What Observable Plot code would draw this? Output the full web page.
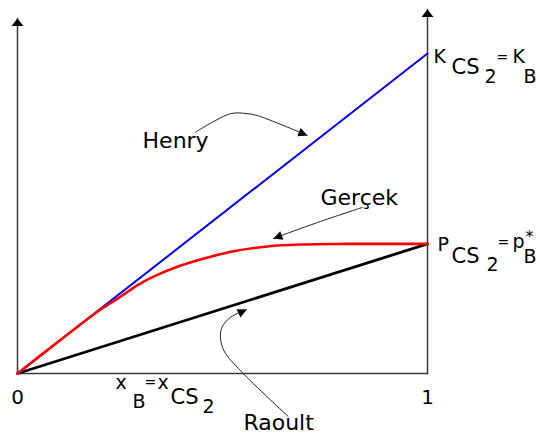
<!DOCTYPE html>
<html><head><meta charset="utf-8">
<script src="https://cdn.jsdelivr.net/npm/d3@7"></script>
<script src="https://cdn.jsdelivr.net/npm/@observablehq/plot@0.6"></script>
<style>body{margin:0;background:#fff}</style>
</head><body><div id="chart"></div>
<script>
// ---- data ----
const xEnds = [0, 1];
const henryY = [0, 1.0];          // K_B at x=1
const raoultY = [0, 0.405];       // p*_B at x=1
const gercekX = [0, 0.1, 0.195, 0.244, 0.293, 0.324, 0.385, 0.446, 0.527, 0.61, 0.69, 0.8, 1];
const gercekY = [0, 0.1, 0.193, 0.234, 0.276, 0.298, 0.331, 0.356, 0.382, 0.397, 0.403, 0.405, 0.405];
const tickValues = [0, 1];
const tickLabels = ["0", "1"];
const henryArrowX = [0.434, 0.520, 0.560, 0.585, 0.707];
const henryArrowY = [0.754, 0.812, 0.812, 0.806, 0.744];
const gercekArrowX = [0.841, 0.732, 0.624];
const gercekArrowY = [0.519, 0.472, 0.422];
const raoultArrowX = [0.66, 0.546, 0.504, 0.495, 0.499, 0.520, 0.559];
const raoultArrowY = [-0.134, 0.006, 0.07, 0.1125, 0.145, 0.176, 0.2];
const axisTopLeft = 1.109;
const axisTopRight = 1.1375;
const labelHenry = "Henry", labelGercek = "Gerçek", labelRaoult = "Raoult";
const labelK = "K_CS2=K_B", labelP = "P_CS2=p*_B", labelX = "x_B=x_CS2";

// ---- layout ----
const W = 540, H = 434, mL = 17, mR = 113, mT = 53, mB = 61;
const pxX = W - mL - mR, pxY = H - mT - mB;
const zip = (xs, ys) => xs.map((x, i) => ({x, y: ys[i]}));
function head(xs, ys) {
  const n = xs.length;
  const dx = (xs[n-1] - xs[n-2]) * pxX, dy = -(ys[n-1] - ys[n-2]) * pxY;
  return {x: xs[n-1], y: ys[n-1], angle: Math.atan2(dx, -dy) * 180 / Math.PI};
}
const mkHead = (len, hw) => ({draw(ctx) { ctx.moveTo(0, 0); ctx.lineTo(-hw, len); ctx.lineTo(hw, len); ctx.closePath(); }});
const axisHead = mkHead(7.5, 6);
const arrowHead = mkHead(9, 4.5);

const heads = [head(henryArrowX, henryArrowY), head(gercekArrowX, gercekArrowY), head(raoultArrowX, raoultArrowY)];
const axisHeads = [{x: 0, y: axisTopLeft, angle: 0}, {x: 1, y: axisTopRight, angle: 0}];
const axisColor = "#3a3a3a";

const plot = Plot.plot({
  width: W, height: H,
  marginLeft: mL, marginRight: mR, marginTop: mT, marginBottom: mB,
  x: {domain: [0, 1], axis: null},
  y: {domain: [0, 1], axis: null},
  style: {fontFamily: "DejaVu Sans", background: "#fff", color: "#000"},
  marks: [
    Plot.line([{x: 0, y: 0}, {x: 0, y: axisTopLeft}], {x: "x", y: "y", stroke: axisColor, strokeWidth: 1.5}),
    Plot.line([{x: 1, y: 0}, {x: 1, y: axisTopRight}], {x: "x", y: "y", stroke: axisColor, strokeWidth: 1.5}),
    Plot.line([{x: 0, y: 0}, {x: 1, y: 0}], {x: "x", y: "y", stroke: axisColor, strokeWidth: 1.5}),
    Plot.dot(axisHeads, {x: "x", y: "y", rotate: "angle", symbol: axisHead, r: 4, fill: "#000", stroke: "none"}),
    Plot.line(zip(xEnds, henryY), {x: "x", y: "y", stroke: "#0000ff", strokeWidth: 2}),
    Plot.line(zip(xEnds, raoultY), {x: "x", y: "y", stroke: "#000", strokeWidth: 2.8}),
    Plot.line(zip(gercekX, gercekY), {x: "x", y: "y", stroke: "#ff0000", strokeWidth: 2.6, curve: "catmull-rom"}),
    Plot.line(zip(henryArrowX, henryArrowY), {x: "x", y: "y", stroke: "#222", strokeWidth: 1, curve: "catmull-rom"}),
    Plot.line(zip(gercekArrowX, gercekArrowY), {x: "x", y: "y", stroke: "#222", strokeWidth: 1, curve: "catmull-rom"}),
    Plot.line(zip(raoultArrowX, raoultArrowY), {x: "x", y: "y", stroke: "#222", strokeWidth: 1, curve: "catmull-rom"}),
    Plot.dot(heads, {x: "x", y: "y", rotate: "angle", symbol: arrowHead, r: 4, fill: "#000", stroke: "none"}),
    Plot.text(tickValues, {x: d => d, y: 0, text: (d, i) => tickLabels[i], fontSize: 20, dy: 30, textAnchor: "middle", fill: "#000"}),
    Plot.text([labelHenry], {x: 0.305, y: 0.706, text: d => d, fontSize: 22, textAnchor: "start", fill: "#000"}),
    Plot.text([labelGercek], {x: 0.739, y: 0.528, text: d => d, fontSize: 22, textAnchor: "start", fill: "#000"}),
    Plot.text([labelRaoult], {x: 0.551, y: 0, dy: 56, text: d => d, fontSize: 22, textAnchor: "start", fill: "#000"}),
    Plot.text([labelK], {x: 1, y: henryY[1], dx: 6, dy: 9, text: d => d, fontSize: 19, textAnchor: "start", fill: "#000"}),
    Plot.text([labelP], {x: 1, y: raoultY[1], dx: 10, dy: 7, text: d => d, fontSize: 19, textAnchor: "start", fill: "#000"}),
    Plot.text([labelX], {x: 0.239, y: 0, dy: 15, text: d => d, fontSize: 19, textAnchor: "start", fill: "#000"})
  ]
});

// ---- rich text (subscripts) ----
const pieces = {
  [labelK]: [["K",0,0],["CS",18,11,21],["2",51,20],["=",63,-1,14],["K",79,0],["B",90,20]],
  [labelP]: [["P",0,0],["CS",14,12,21],["2",49,20],["=",60,-4,14],["p",75,-3],["B",86,12],["*",88,-9,16]],
  [labelX]: [["x",0,0],["B",17,19],["=",29,-2,14],["x",42,0],["CS",55,15,21],["2",87,24]]
};
const NS = "http://www.w3.org/2000/svg";
plot.querySelectorAll("text").forEach(t => {
  t.setAttribute("y", 0);
  const p = pieces[t.textContent];
  if (!p) return;
  t.textContent = "";
  for (const [s, x, y, fs] of p) {
    const ts = document.createElementNS(NS, "tspan");
    ts.setAttribute("x", x); ts.setAttribute("y", y);
    if (fs) ts.setAttribute("font-size", fs);
    ts.textContent = s;
    t.appendChild(ts);
  }
});
document.getElementById("chart").appendChild(plot);
</script>
</body></html>
